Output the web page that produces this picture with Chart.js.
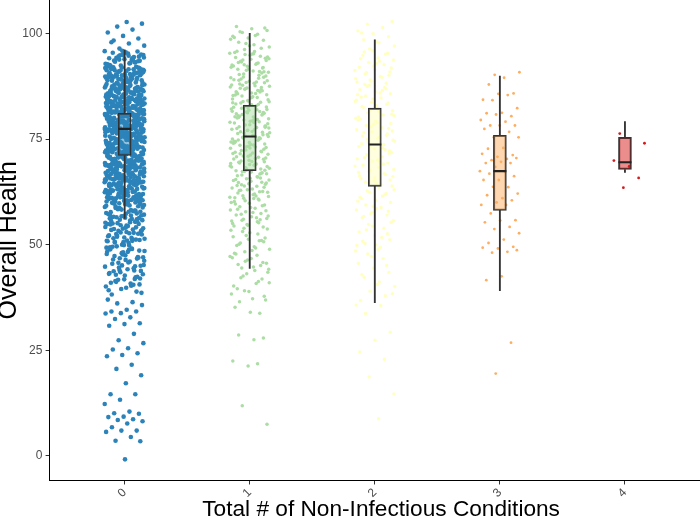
<!DOCTYPE html>
<html><head><meta charset="utf-8">
<script src="https://cdn.jsdelivr.net/npm/chart.js@4.4.0/dist/chart.umd.min.js"></script>
<style>html,body{margin:0;padding:0;background:#fff}#wrap{width:700px;height:518px}</style>
</head><body><div id="wrap"><canvas id="c" width="700" height="518"></canvas></div>
<script>
const categories = ['0', '1', '2', '3', '4'];
const yTicks = [0, 25, 50, 75, 100];

// box plot statistics
const q1 = [71.1, 67.5, 63.8, 58.1, 67.8];
const median = [77.4, 75.6, 73.7, 67.4, 69.5];
const q3 = [81.1, 83.0, 82.3, 75.9, 75.4];
const whiskerLow = [56.2, 44.4, 36.3, 39.1, 67.1];
const whiskerHigh = [96.1, 100.0, 98.5, 89.9, 79.1];

// individual (jittered) observations, Overall Health
const health0 = [
96.4,97.1,97.6,98.3,98.8,99.4,100.2,100.9,101.6,102.3,102.7,97.9,
92.1,92.4,92.8,93.0,93.3,93.5,93.9,94.1,94.4,94.6,94.9,95.2,95.4,95.7,95.9,92.6,93.7,94.2,95.0,95.5,92.3,93.1,94.8,95.8,92.9,93.6,94.5,95.3,92.2,94.0,
88.1,88.3,88.6,88.8,89.0,89.2,89.5,89.7,89.9,90.1,90.3,90.6,90.8,91.0,91.2,91.5,91.7,91.9,88.2,88.9,89.4,90.0,90.5,91.1,91.6,88.4,89.1,89.8,90.4,91.3,91.8,88.7,89.6,90.2,90.9,91.4,88.5,89.3,90.7,91.9,88.0,89.1,90.3,91.5,89.7,
84.0,84.2,84.4,84.6,84.9,85.1,85.3,85.5,85.8,86.0,86.2,86.5,86.7,86.9,87.1,87.4,87.6,87.8,84.1,84.5,84.8,85.2,85.6,85.9,86.3,86.6,87.0,87.3,87.7,84.3,84.7,85.0,85.4,85.7,86.1,86.4,86.8,87.2,87.5,87.9,84.2,84.9,85.3,85.8,86.2,86.6,87.1,87.5,84.6,85.0,85.5,86.0,86.4,86.9,87.3,
80.1,80.4,80.7,80.9,81.2,81.5,81.7,82.0,82.3,82.5,82.8,83.1,83.3,83.6,83.9,80.3,80.6,81.0,81.3,81.6,81.9,82.2,82.6,82.9,83.2,83.5,83.8,80.2,80.5,80.8,81.1,81.4,81.8,82.1,82.4,82.7,83.0,83.4,83.7,80.0,80.9,81.5,82.1,82.8,83.3,83.9,80.4,81.2,82.0,82.6,83.5,80.7,81.4,82.3,83.1,83.7,80.2,81.0,81.8,82.5,83.2,80.6,81.6,82.9,
76.0,76.3,76.5,76.8,77.0,77.3,77.5,77.8,78.1,78.3,78.6,78.8,79.1,79.3,79.6,79.8,76.1,76.4,76.7,76.9,77.2,77.4,77.7,77.9,78.2,78.5,78.7,79.0,79.2,79.5,79.7,76.2,76.6,77.1,77.6,78.0,78.4,78.9,79.4,79.9,76.5,77.0,77.5,78.0,78.5,79.0,79.5,76.3,76.8,77.3,77.8,78.3,78.8,79.3,79.8,76.1,76.9,77.7,78.4,79.1,79.6,76.6,77.4,78.2,78.9,79.7,
72.0,72.3,72.5,72.8,73.0,73.3,73.6,73.8,74.1,74.3,74.6,74.9,75.1,75.4,75.6,75.9,72.1,72.4,72.7,72.9,73.2,73.5,73.7,74.0,74.2,74.5,74.8,75.0,75.3,75.5,75.8,72.2,72.6,73.1,73.4,73.9,74.4,74.7,75.2,75.7,72.5,73.0,73.5,74.0,74.5,75.0,75.5,72.3,72.8,73.3,73.8,74.3,74.8,75.3,75.8,72.0,72.9,73.6,74.2,74.9,75.6,72.7,73.4,74.1,74.6,75.4,
68.0,68.3,68.6,68.8,69.1,69.4,69.6,69.9,70.2,70.4,70.7,71.0,71.2,71.5,71.8,68.1,68.4,68.7,69.0,69.3,69.5,69.8,70.1,70.3,70.6,70.9,71.1,71.4,71.7,71.9,68.2,68.5,68.9,69.2,69.7,70.0,70.5,70.8,71.3,71.6,68.0,68.6,69.3,69.9,70.6,71.2,71.8,68.4,69.0,69.6,70.2,70.9,71.5,68.8,69.5,70.3,71.0,71.7,
64.0,64.3,64.6,64.9,65.2,65.5,65.8,66.1,66.4,66.7,67.0,67.3,67.6,67.9,64.1,64.5,64.8,65.1,65.4,65.7,66.0,66.3,66.6,66.9,67.2,67.5,67.8,64.2,64.7,65.3,65.9,66.5,67.1,67.7,64.4,65.0,65.6,66.2,66.8,67.4,64.6,65.4,66.2,67.0,67.8,64.9,65.8,66.7,67.6,64.3,65.5,66.4,67.2,
60.0,60.4,60.8,61.2,61.6,62.0,62.4,62.8,63.2,63.6,60.2,60.6,61.0,61.4,61.8,62.2,62.6,63.0,63.4,63.8,60.1,60.7,61.3,61.9,62.5,63.1,63.7,60.5,61.1,61.7,62.3,62.9,63.5,60.3,61.5,62.7,63.9,60.9,62.1,63.3,61.6,62.8,60.6,63.0,61.2,
56.1,56.5,56.9,57.3,57.7,58.1,58.5,58.9,59.3,59.7,56.3,56.8,57.2,57.9,58.4,58.8,59.5,59.9,56.0,56.7,57.5,58.2,59.0,59.6,56.4,57.1,58.0,58.7,59.4,57.8,56.6,59.1,
50.2,50.8,51.3,51.9,52.4,53.0,53.5,54.1,54.6,55.2,55.7,50.5,51.1,51.7,52.2,52.8,53.3,53.9,54.4,55.0,55.5,50.0,50.9,51.6,52.5,53.2,54.0,54.8,55.4,55.9,51.4,52.7,53.7,54.9,50.6,52.0,53.6,55.1,55.8,51.0,
38.2,38.9,39.5,40.1,40.8,41.4,42.0,42.7,43.3,43.9,44.6,45.2,45.8,46.5,47.1,47.7,48.4,49.0,49.6,38.6,39.8,41.0,42.3,43.5,44.8,46.0,47.3,48.6,49.9,39.2,40.5,41.7,43.0,44.2,45.5,46.7,48.0,49.3,40.3,42.9,45.0,47.5,49.4,41.9,44.0,46.2,48.8,43.7,46.9,48.2,
37.0,36.4,36.1,35.7,34.6,34.2,34.2,33.8,33.7,32.8,32.4,31.4,31.2,30.8,28.9,27.4,26.7,25.5,25.2,24.3,23.9,23.6,21.6,20.6,19.1,17.2,14.6,14.6,13.3,12.3,10.5,10.1,10.0,9.3,9.2,8.7,8.5,8.2,7.7,6.8,6.0,6.0,5.7,4.5,3.6,3.5,-0.8,
92.5,93.2,93.8,94.3,94.7,92.0,93.4,94.9,92.7,94.1,
88.3,88.9,89.4,90.0,90.6,91.2,91.8,88.6,89.8,91.0,88.1,90.3,91.5,89.2,90.8,88.8,91.7,89.5,90.1,91.3,
84.4,84.9,85.4,85.9,86.4,86.9,87.4,87.9,84.2,85.2,86.2,87.2,84.7,85.7,86.7,87.7,84.1,85.5,86.5,87.5,85.0,86.0,87.0,84.6,86.8,
80.3,80.8,81.3,81.8,82.3,82.8,83.3,83.8,80.1,81.1,82.1,83.1,80.6,81.6,82.6,83.6,80.9,81.9,82.9,83.9,80.4,81.4,82.4,83.4,81.0,82.0,83.0,80.7,81.7,82.7,
76.2,76.7,77.2,77.7,78.2,78.7,79.2,79.7,76.4,77.4,78.4,79.4,76.9,77.9,78.9,79.9,76.0,77.0,78.0,79.0,76.6,77.6,78.6,79.6,76.3,77.3,78.3,79.3,76.8,78.1,
72.2,72.7,73.2,73.7,74.2,74.7,75.2,75.7,72.4,73.4,74.4,75.4,72.9,73.9,74.9,75.9,72.0,73.0,74.0,75.0,72.6,73.6,74.6,75.6,72.3,73.3,74.3,75.3,72.8,74.1,
68.2,68.7,69.2,69.7,70.2,70.7,71.2,71.7,68.4,69.4,70.4,71.4,68.9,69.9,70.9,71.9,68.0,69.0,70.0,71.0,68.6,69.6,70.6,71.6,68.3,69.3,70.3,71.3,68.8,70.1,
64.2,64.7,65.2,65.7,66.2,66.7,67.2,67.7,64.4,65.4,66.4,67.4,64.9,65.9,66.9,67.9,64.0,65.0,66.0,67.0,64.6,65.6,66.6,67.6,64.3,65.3,66.3,67.3,
60.3,60.9,61.5,62.1,62.7,63.3,63.9,60.6,61.8,63.0,60.0,61.2,62.4,63.6,60.8,62.0,63.2,61.4,62.6,63.8,60.5,62.9,
56.5,57.4,58.3,59.2,56.9,58.7,57.8,59.6,56.2,58.0,59.8,57.1,
50.4,51.5,52.6,53.8,54.9,50.9,52.1,53.4,54.5,55.6,51.2,52.9,54.2,55.3,50.7,
40.6,41.8,43.1,44.4,45.7,47.0,48.3,49.5,42.4,45.1,47.8,49.1,41.2,43.8,46.4,48.9,44.9,46.8,48.5,49.8
];
const health1 = [
96.2,96.8,97.3,97.9,98.4,98.9,99.3,99.8,100.2,100.7,101.1,101.6,96.5,97.6,98.6,99.5,100.4,101.3,97.1,99.0,
90.1,90.4,90.8,91.1,91.5,91.8,92.2,92.5,92.9,93.2,93.6,93.9,94.3,94.6,95.0,95.3,95.7,90.3,90.9,91.6,92.3,93.0,93.7,94.4,95.1,95.8,90.6,91.3,92.0,92.7,93.4,94.1,94.8,95.5,91.0,92.6,94.0,95.2,93.1,91.9,
84.1,84.5,84.8,85.2,85.5,85.9,86.2,86.6,86.9,87.3,87.6,88.0,88.3,88.7,89.0,89.4,89.7,84.3,85.0,85.7,86.4,87.1,87.8,88.5,89.2,89.9,84.7,85.4,86.1,86.8,87.5,88.2,88.9,89.6,84.0,85.3,86.5,87.7,88.8,84.9,86.0,87.2,88.4,89.5,85.8,87.0,
78.1,78.4,78.8,79.1,79.5,79.8,80.2,80.5,80.9,81.2,81.6,81.9,82.3,82.6,83.0,83.3,83.7,78.3,79.0,79.7,80.4,81.1,81.8,82.5,83.2,83.9,78.6,79.3,80.0,80.7,81.4,82.1,82.8,83.5,78.0,79.2,80.3,81.5,82.7,83.8,78.9,80.1,81.3,82.4,83.6,79.6,80.8,82.0,83.1,81.0,
72.1,72.4,72.8,73.1,73.5,73.8,74.2,74.5,74.9,75.2,75.6,75.9,76.3,76.6,77.0,77.3,77.7,72.3,73.0,73.7,74.4,75.1,75.8,76.5,77.2,77.9,72.6,73.3,74.0,74.7,75.4,76.1,76.8,77.5,72.0,73.2,74.3,75.5,76.7,77.8,72.9,74.1,75.3,76.4,77.6,73.6,74.8,76.0,77.1,75.0,
66.1,66.5,66.8,67.2,67.5,67.9,68.2,68.6,68.9,69.3,69.6,70.0,70.3,70.7,71.0,71.4,71.7,66.3,67.0,67.7,68.4,69.1,69.8,70.5,71.2,71.9,66.7,67.4,68.1,68.8,69.5,70.2,70.9,71.6,66.0,67.3,68.5,69.7,70.8,66.9,68.0,69.2,70.4,71.5,67.6,69.0,
60.2,60.6,61.0,61.4,61.8,62.2,62.6,63.0,63.4,63.8,64.2,64.6,65.0,65.4,65.8,60.4,61.2,62.0,62.8,63.6,64.4,65.2,60.8,61.6,62.4,63.2,64.0,64.8,65.6,60.0,61.5,62.9,64.3,65.7,61.1,62.5,63.9,65.3,60.9,64.7,
54.2,54.6,55.0,55.4,55.8,56.2,56.6,57.0,57.4,57.8,58.2,58.6,59.0,59.4,59.8,54.4,55.2,56.0,56.8,57.6,58.4,59.2,54.8,55.6,56.4,57.2,58.0,58.8,59.6,55.9,
48.3,48.9,49.5,50.1,50.7,51.3,51.9,52.5,53.1,53.7,48.6,49.8,51.0,52.2,53.4,49.2,50.4,51.6,52.8,48.0,50.9,53.9,
44.2,44.7,45.3,45.8,46.4,46.9,47.5,44.5,45.6,46.7,47.8,45.1,46.1,47.2,43.9,
36.5,37.8,38.9,40.2,41.3,42.6,43.5,37.2,39.6,41.9,43.1,38.3,40.8,42.2,36.9,34.0,35.2,33.8,39.1,41.0,
27.5,28.6,27.9,21.3,22.5,21.8,11.9,7.5
];
const health2 = [
96.3,97.0,97.8,98.5,99.2,99.9,100.6,101.4,102.2,102.8,98.0,100.1,
88.2,88.7,89.3,89.8,90.4,90.9,91.5,92.0,92.6,93.1,93.7,94.2,94.8,95.3,95.9,88.5,89.6,90.7,91.8,92.9,94.0,95.1,89.0,91.2,93.4,95.6,90.1,92.3,
80.2,80.7,81.2,81.7,82.2,82.7,83.2,83.7,84.2,84.7,85.2,85.7,86.2,86.7,87.2,87.7,80.5,81.5,82.5,83.5,84.5,85.5,86.5,87.5,80.9,82.9,84.9,86.9,81.9,83.9,85.9,87.9,
72.2,72.7,73.2,73.7,74.2,74.7,75.2,75.7,76.2,76.7,77.2,77.7,78.2,78.7,79.2,79.7,72.5,73.5,74.5,75.5,76.5,77.5,78.5,79.5,72.9,74.9,76.9,78.9,73.9,75.9,77.9,79.9,
64.3,64.8,65.3,65.8,66.3,66.8,67.3,67.8,68.3,68.8,69.3,69.8,70.3,70.8,71.3,71.8,64.6,65.6,66.6,67.6,68.6,69.6,70.6,71.6,65.1,67.1,69.1,71.1,66.1,70.1,
56.4,57.0,57.6,58.2,58.8,59.4,60.0,60.6,61.2,61.8,62.4,63.0,63.6,56.7,57.9,59.1,60.3,61.5,62.7,63.9,58.5,60.9,62.1,57.3,
48.5,49.4,50.3,51.2,52.1,53.0,53.9,54.8,55.7,48.9,50.8,52.6,54.4,49.8,51.7,53.5,55.3,50.0,
36.8,37.9,39.0,40.1,41.2,42.3,43.4,44.5,45.6,46.7,47.8,38.4,40.6,42.9,45.1,47.2,
35.7,35.6,33.7,29.3,27.4,24.6,22.9,18.7,14.7,8.8
];
const health3 = [
90.2,90.8,89.5,87.9,85.8,85.7,84.3,85.4,84.2,82.3,81.2,81.1,80.4,80.8,79.5,79.1,78.2,78.2,78.2,77.4,
76.7,75.4,75.4,72.9,72.7,71.2,70.8,71.5,70.3,70.0,70.5,69.6,69.3,69.3,68.4,67.4,67.3,66.8,66.2,65.3,
65.3,63.6,63.7,62.1,61.0,61.7,60.5,60.0,59.4,59.4,57.4,55.8,55.7,55.3,54.2,53.7,52.7,51.2,50.4,49.5,
49.1,49.3,48.3,48.1,48.7,42.5,41.6,26.8,19.5
];
const health4 = [76.3, 74.0, 68.5, 69.9, 65.8, 63.5];

const healthByCategory = [health0, health1, health2, health3, health4];
const colors = ['#2B83BA', '#ABDDA4', '#FFFFBF', '#FDAE61', '#D7191C'];
const boxFills = ['rgba(43,131,186,0.5)', 'rgba(171,221,164,0.5)', 'rgba(255,255,191,0.5)', 'rgba(253,174,97,0.5)', 'rgba(215,25,28,0.5)'];
const pointRadii = [2.3, 1.75, 1.7, 1.4, 1.4];

const JITTER = 0.16;
function jitter(i) { const f = (i * 0.6180339887 + 0.37) % 1; return (f - 0.5) * 2 * JITTER; }

Chart.defaults.font.family = "'Liberation Sans', Arial, Helvetica, sans-serif";

const datasets = [];
healthByCategory.forEach((vals, k) => {
  datasets.push({
    type: 'scatter',
    data: vals.map((v, i) => ({ x: k + jitter(i), y: v })),
    backgroundColor: colors[k],
    pointRadius: pointRadii[k],
    borderWidth: 0,
    order: 10
  });
});
datasets.push({
  type: 'bar',
  data: categories.map((c, k) => ({ x: k, y: [whiskerLow[k], q1[k]] })),
  backgroundColor: '#333333', borderWidth: 0, barThickness: 1.2, grouped: false, order: 6
});
datasets.push({
  type: 'bar',
  data: categories.map((c, k) => ({ x: k, y: [q3[k], whiskerHigh[k]] })),
  backgroundColor: '#333333', borderWidth: 0, barThickness: 1.2, grouped: false, order: 6
});
datasets.push({
  type: 'bar',
  data: categories.map((c, k) => ({ x: k, y: [q1[k], q3[k]] })),
  backgroundColor: boxFills, borderColor: '#333333', borderWidth: 1.4, borderSkipped: false,
  barThickness: 13, grouped: false, order: 5
});
datasets.push({
  type: 'scatter',
  data: categories.map((c, k) => ({ x: k, y: median[k] })),
  pointStyle: 'line', pointRadius: 6.5, borderWidth: 2.2, borderColor: '#222222', backgroundColor: '#222222',
  order: 1
});

new Chart(document.getElementById('c'), {
  type: 'scatter',
  data: { datasets },
  options: {
    responsive: false, animation: false, events: [],
    layout: { padding: 0, autoPadding: false },
    plugins: { legend: { display: false }, tooltip: { enabled: false } },
    scales: {
      x: {
        type: 'linear', min: -0.6, max: 4.6, offset: false,
        afterBuildTicks: s => { s.ticks = categories.map((c, i) => ({ value: i })); },
        afterFit: s => { s.paddingLeft = 0; s.paddingRight = 0; },
        ticks: { callback: v => categories[v], minRotation: 45, maxRotation: 45, color: '#4D4D4D', font: { size: 12, lineHeight: 1 }, padding: 2 },
        grid: { offset: false, drawOnChartArea: false, drawTicks: true, tickLength: 4, color: '#333333' },
        border: { display: true, color: '#000000', width: 1 },
        title: { display: true, text: '  Total # of Non-Infectious Conditions', color: '#000000', font: { size: 22.66, lineHeight: 0.72 }, padding: 0 }
      },
      y: {
        type: 'linear', min: -5.8, max: 107.9,
        afterBuildTicks: s => { s.ticks = yTicks.map(v => ({ value: v })); },
        afterFit: s => { s.paddingTop = 0; s.paddingBottom = 0; },
        ticks: { color: '#4D4D4D', font: { size: 12 }, padding: 3.3 },
        grid: { drawOnChartArea: false, drawTicks: true, tickLength: 4, color: '#333333' },
        border: { display: true, color: '#000000', width: 1 },
        title: { display: true, text: 'Overall Health', color: '#000000', font: { size: 25, lineHeight: 0.76 }, padding: 0 }
      }
    }
  }
});
</script></body></html>
